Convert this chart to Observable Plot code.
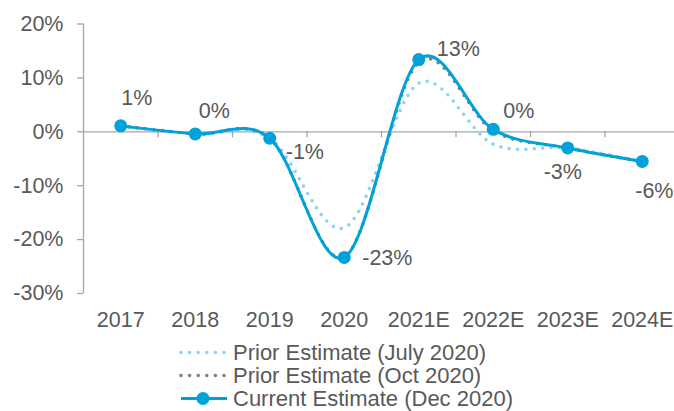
<!DOCTYPE html>
<html>
<head>
<meta charset="utf-8">
<script src="https://cdn.jsdelivr.net/npm/d3@7"></script>
<script src="https://cdn.jsdelivr.net/npm/@observablehq/plot@0.6"></script>
<style>
  html, body { margin: 0; padding: 0; background: #fff; }
  #wrap { position: relative; width: 674px; height: 411px; overflow: hidden; font-family: "Liberation Sans", Arial, sans-serif; color: #595959; }
  #chart svg { display: block; }
  #legend { position: absolute; left: 179px; top: 340.5px; font-size: 22px; line-height: 23px; }
  .row { display: flex; align-items: center; height: 23px; white-space: nowrap; }
  .row svg { display: block; margin-right: 6px; }
</style>
</head>
<body>
<div id="wrap">
  <div id="chart"></div>
  <div id="legend"></div>
</div>
<script>
const categories = ["2017", "2018", "2019", "2020", "2021E", "2022E", "2023E", "2024E"];
const priorJul2020 = [1.1, -0.4, -1.2, -17.8, 9.0, -2.3, -3.0, -5.5];
const priorOct2020 = [1.1, -0.4, -1.2, -23.2, 12.9, 0.2, -3.0, -5.5];
const currentDec2020 = [1.1, -0.4, -1.2, -23.3, 13.4, 0.45, -3.0, -5.5];
const dataLabels = ["1%", "0%", "-1%", "-23%", "13%", "0%", "-3%", "-6%"];
const yTicks = [-30, -20, -10, 0, 10, 20];
const seriesNames = ["Prior Estimate (July 2020)", "Prior Estimate (Oct 2020)", "Current Estimate (Dec 2020)"];

const blue = "#00a2d9";
const lightBlue = "#86d7f7";
const gray = "#7f7f7f";
const axisColor = "#a6a6a6";
const textColor = "#595959";
const fontSize = "21.5px";

// label placement (style only): [dx, dy, textAnchor]
const labelPlacement = [
  [16, -28, "middle"],
  [19, -23, "middle"],
  [16, 14, "start"],
  [18, 1, "start"],
  [18, -10, "start"],
  [10, -18, "start"],
  [-5, 24, "middle"],
  [-7, 30, "start"]
];

const rows = arr => arr.map((v, i) => ({i, v}));
const boundaries = categories.slice(1).map((_, i) => i + 0.5);

const dotted = {curve: "cardinal", tension: 0, strokeWidth: 3.6, strokeDasharray: "0 8.4", strokeLinecap: "round"};

const chart = Plot.plot({
  width: 674,
  height: 338,
  marginLeft: 83,
  marginRight: 0,
  marginTop: 23.5,
  marginBottom: 45,
  x: {domain: [-0.5, categories.length - 0.5], range: [83, 679], axis: null},
  y: {domain: [-30, 20], axis: null},
  style: {fontFamily: "'Liberation Sans', Arial, sans-serif", fontSize, color: textColor, background: "white", overflow: "visible"},
  marks: [
    Plot.ruleY([0], {stroke: axisColor, strokeWidth: 1.3}),
    Plot.ruleX([-0.5], {y1: -30, y2: 20, stroke: axisColor, strokeWidth: 1.3}),
    Plot.ruleX(boundaries, {x: d => d, y1: 0, y2: 0, insetBottom: -6, stroke: axisColor, strokeWidth: 1.3}),
    Plot.ruleY(yTicks, {y: d => d, x1: -0.5, x2: -0.5, insetLeft: -6, stroke: axisColor, strokeWidth: 1.3}),
    Plot.text(yTicks, {x: -0.5, y: d => d, text: d => `${d}%`, textAnchor: "end", dx: -20, fill: textColor, fontSize}),
    Plot.text(categories, {x: (d, i) => i, y: -30, text: d => d, dy: 27, fill: textColor, fontSize}),
    Plot.line(rows(priorJul2020), {x: "i", y: "v", stroke: lightBlue, ...dotted}),
    Plot.line(rows(priorOct2020), {x: "i", y: "v", stroke: gray, ...dotted}),
    Plot.line(rows(currentDec2020), {x: "i", y: "v", stroke: blue, strokeWidth: 3, curve: "cardinal", tension: 0}),
    Plot.dot(rows(currentDec2020), {x: "i", y: "v", r: 6.5, fill: blue, stroke: "none"}),
    ...categories.map((c, i) => Plot.text([i], {
      x: d => d,
      y: d => currentDec2020[d],
      text: d => dataLabels[d],
      dx: labelPlacement[i][0],
      dy: labelPlacement[i][1],
      textAnchor: labelPlacement[i][2],
      fill: textColor,
      fontSize
    }))
  ]
});
document.getElementById("chart").appendChild(chart);

// legend
const legend = d3.select("#legend");
const swatchStyles = [
  {stroke: lightBlue, dash: "0 8.6", width: 3.6, marker: false},
  {stroke: gray, dash: "0 8.6", width: 3.6, marker: false},
  {stroke: blue, dash: null, width: 3, marker: true}
];
seriesNames.forEach((name, k) => {
  const st = swatchStyles[k];
  const row = legend.append("div").attr("class", "row");
  const svg = row.append("svg").attr("width", 48).attr("height", 23);
  const ln = svg.append("line").attr("x1", 2).attr("x2", st.marker ? 48 : 46).attr("y1", 11.5).attr("y2", 11.5)
    .attr("stroke", st.stroke).attr("stroke-width", st.width);
  if (st.dash) ln.attr("stroke-dasharray", st.dash).attr("stroke-linecap", "round");
  if (st.marker) svg.append("circle").attr("cx", 24).attr("cy", 11.5).attr("r", 6.5).attr("fill", blue);
  row.append("span").text(name);
});
</script>
</body>
</html>
